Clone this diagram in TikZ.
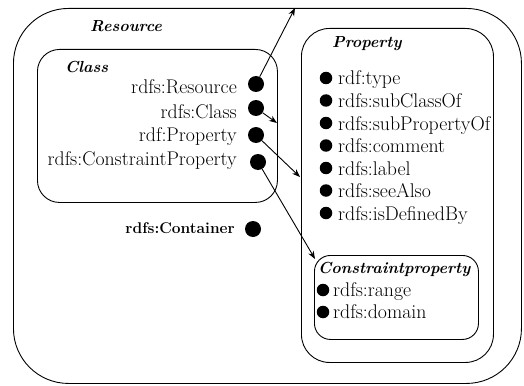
\documentclass[tikz,border=0pt]{standalone}
\usetikzlibrary{arrows.meta}
\begin{document}
\begin{tikzpicture}[x=1pt,y=-1pt,
  box/.style={draw, line width=0.9pt, inner sep=0pt, anchor=north west},
  bigdot/.style={circle, fill=black, inner sep=0pt, minimum size=16pt},
  smalldot/.style={circle, fill=black, inner sep=0pt, minimum size=12.5pt},
  lbl/.style={inner sep=0pt, font=\fontsize{19.8}{23}\selectfont},
  lblw/.style={lbl, anchor=base west},
  lble/.style={lbl, anchor=base east},
  ttl/.style={inner sep=0pt, font=\fontsize{16}{19}\selectfont\bfseries\itshape, anchor=base west},
  conn/.style={line width=0.9pt, -{Stealth[length=8pt,width=6pt]}}
]
\useasboundingbox (0,0) rectangle (524,385);

% boxes
\node[box, rounded corners=55pt, minimum width=508pt, minimum height=375pt] (res) at (13,8) {};
\node[box, rounded corners=22pt, minimum width=240pt, minimum height=153pt] (cls) at (37,49) {};
\node[box, rounded corners=28pt, minimum width=192pt, minimum height=334pt] (prop) at (301,28) {};
\node[box, rounded corners=16pt, minimum width=164pt, minimum height=84pt] (cp) at (314,255) {};

% titles
\node[ttl] (tres) at (90,32) {Resource};
\node[ttl] (tcls) at (65,73) {Class};
\node[ttl] (tprop) at (332,48) {Property};
\node[ttl] (tcp) at (318,273) {Constraintproperty};

% class items
\node[lble] (l1) at (237,94) {rdfs:Resource};
\node[lble] (l2) at (237,118) {rdfs:Class};
\node[lble] (l3) at (237,141) {rdf:Property};
\node[lble] (l4) at (237,165) {rdfs:ConstraintProperty};
\node[bigdot] (c1) at (256,84) {};
\node[bigdot] (c2) at (256,108) {};
\node[bigdot] (c3) at (256,135) {};
\node[bigdot] (c4) at (258,162) {};

% container
\node[inner sep=0pt, anchor=base east, font=\fontsize{15.5}{18}\selectfont\bfseries] (lcont) at (235,233) {rdfs:Container};
\node[bigdot] (cont) at (253,229) {};

% property items
\node[smalldot] (p1) at (326,78) {};
\node[smalldot] (p2) at (326,100.5) {};
\node[smalldot] (p3) at (326,123) {};
\node[smalldot] (p4) at (326,145.5) {};
\node[smalldot] (p5) at (326,168) {};
\node[smalldot] (p6) at (326,190.5) {};
\node[smalldot] (p7) at (326,213) {};
\node[lblw] (q1) at (338,85) {rdf:type};
\node[lblw] (q2) at (338,107.5) {rdfs:subClassOf};
\node[lblw] (q3) at (338,130) {rdfs:subPropertyOf};
\node[lblw] (q4) at (338,152.5) {rdfs:comment};
\node[lblw] (q5) at (338,175) {rdfs:label};
\node[lblw] (q6) at (338,197.5) {rdfs:seeAlso};
\node[lblw] (q7) at (338,220) {rdfs:isDefinedBy};

% constraint property items
\node[smalldot] (r1) at (323,290) {};
\node[smalldot] (r2) at (323,312) {};
\node[lblw] (s1) at (333,296) {rdfs:range};
\node[lblw] (s2) at (333,318) {rdfs:domain};

% connectors
\coordinate (t1) at (295,8);
\coordinate (t2) at (277,123);
\coordinate (t3) at (300,177);
\coordinate (t4) at (315,259);
\draw[conn] (c1) -- (t1);
\draw[conn] (c2) -- (t2);
\draw[conn] (c3) -- (t3);
\draw[conn] (c4) -- (t4);
\end{tikzpicture}
\end{document}
